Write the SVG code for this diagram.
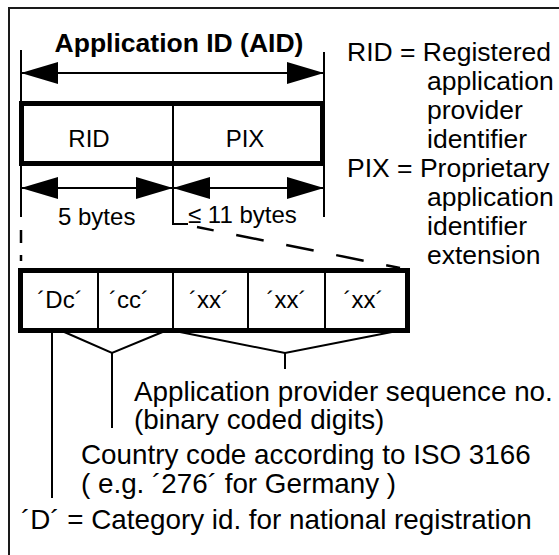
<svg xmlns="http://www.w3.org/2000/svg" width="559" height="555" viewBox="0 0 559 555">
  <style>
    text { font-family: "Liberation Sans", Arial, Helvetica, sans-serif; fill: #000; }
    .title { font-size: 26.5px; font-weight: bold; }
    .cell { font-size: 24px; }
    .legend { font-size: 26.5px; }
    .note { font-size: 27.8px; }
    .frame { fill: none; stroke: #1a1a1a; stroke-width: 2; }
    .box { fill: #fff; stroke: #000; stroke-width: 5; }
    .div { stroke: #000; stroke-width: 2; }
    .thin { fill: none; stroke: #000; stroke-width: 2; }
    .dim { fill: none; stroke: #000; stroke-width: 2; marker-start: url(#head); marker-end: url(#head); }
    .dash { fill: none; stroke: #000; stroke-width: 2.5; }
  </style>
  <defs>
    <marker id="head" markerUnits="userSpaceOnUse" markerWidth="37" markerHeight="22" refX="36" refY="11" orient="auto-start-reverse">
      <path d="M0,0 L37,11 L0,22 Z" fill="#000"/>
    </marker>
  </defs>

  <rect width="559" height="555" fill="#fff"/>
  <!-- outer frame (top and left edges) -->
  <path class="frame" d="M9,555 V8 H559"/>

  <g id="connectors">
    <!-- extension lines -->
    <line class="thin" x1="21" y1="50" x2="21" y2="217"/>
    <line class="thin" x1="324" y1="52" x2="324" y2="217"/>
    <path class="thin" d="M173,166 V224 H188"/>
    <!-- dimension arrows -->
    <line class="dim" x1="22" y1="73" x2="323" y2="73"/>
    <line class="dim" x1="22" y1="188" x2="172" y2="188"/>
    <line class="dim" x1="174" y1="188" x2="323" y2="188"/>
    <!-- projection of the RID/PIX row onto the byte row -->
    <line class="dash" x1="21" y1="230" x2="21" y2="261" stroke-dasharray="13 12"/>
    <line class="dash" x1="197" y1="227" x2="400" y2="268" stroke-dasharray="28 23" stroke-dashoffset="11"/>
    <!-- braces under the byte row -->
    <line class="thin" x1="52" y1="333" x2="52" y2="498"/>
    <path class="thin" d="M62,331 L112,353 L165,331"/>
    <line class="thin" x1="112" y1="353" x2="112" y2="428"/>
    <path class="thin" d="M175,331 L285,353 L397,331"/>
    <line class="thin" x1="285" y1="353" x2="285" y2="369"/>
  </g>

  <g id="aid-label">
    <text class="title" x="179" y="52" text-anchor="middle">Application ID (AID)</text>
  </g>

  <g id="aid-box">
    <rect class="box" x="21.5" y="103.5" width="301" height="60"/>
    <line class="div" x1="173" y1="103" x2="173" y2="164"/>
    <text class="cell" x="89" y="147" text-anchor="middle">RID</text>
    <text class="cell" x="245" y="147" text-anchor="middle">PIX</text>
  </g>

  <g id="size-labels">
    <text class="cell" x="58" y="225">5 bytes</text>
    <text class="cell" x="188" y="223">≤ 11 bytes</text>
  </g>

  <g id="legend">
    <text class="legend" x="347" y="61">RID = Registered</text>
    <text class="legend" x="427" y="90">application</text>
    <text class="legend" x="427" y="119">provider</text>
    <text class="legend" x="427" y="148">identifier</text>
    <text class="legend" x="347" y="177">PIX = Proprietary</text>
    <text class="legend" x="427" y="206">application</text>
    <text class="legend" x="427" y="235">identifier</text>
    <text class="legend" x="427" y="264">extension</text>
  </g>

  <g id="byte-row">
    <rect class="box" x="20.5" y="270.5" width="387" height="60"/>
    <line class="div" x1="98" y1="270" x2="98" y2="331"/>
    <line class="div" x1="173" y1="270" x2="173" y2="331"/>
    <line class="div" x1="248" y1="270" x2="248" y2="331"/>
    <line class="div" x1="325" y1="270" x2="325" y2="331"/>
    <text class="cell" x="60" y="308" text-anchor="middle">´Dc´</text>
    <text class="cell" x="129" y="308" text-anchor="middle">´cc´</text>
    <text class="cell" x="209" y="308" text-anchor="middle">´xx´</text>
    <text class="cell" x="286.5" y="308" text-anchor="middle">´xx´</text>
    <text class="cell" x="363.5" y="308" text-anchor="middle">´xx´</text>
  </g>

  <g id="sequence-note">
    <text class="note" x="134" y="401">Application provider sequence no.</text>
    <text class="note" x="134" y="429">(binary coded digits)</text>
  </g>

  <g id="country-note">
    <text class="note" x="81" y="464">Country code according to ISO 3166</text>
    <text class="note" x="81" y="493">( e.g. ´276´ for Germany )</text>
  </g>

  <g id="category-note">
    <text class="note" x="21" y="529">´D´ = Category id. for national registration</text>
  </g>
</svg>
